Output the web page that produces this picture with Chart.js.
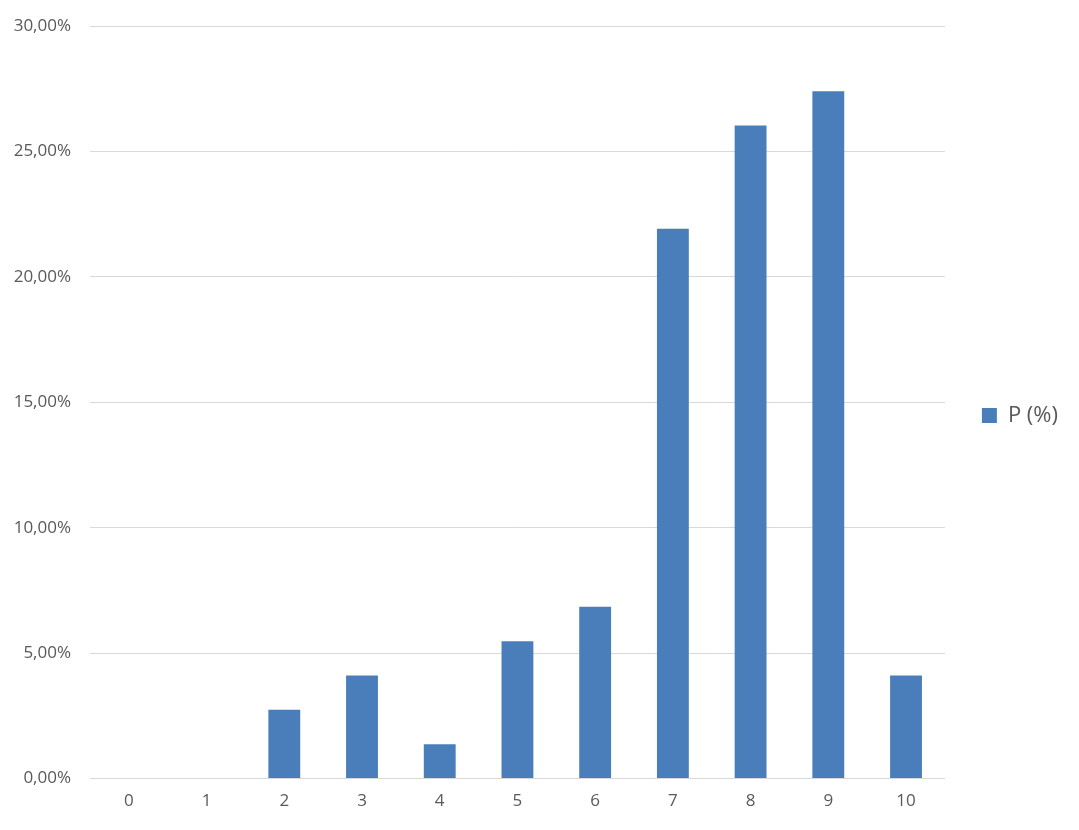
<!DOCTYPE html>
<html>
<head>
<meta charset="utf-8">
<script src="https://cdn.jsdelivr.net/npm/chart.js@4"></script>
<style>
  html, body { margin: 0; padding: 0; background: #fff; }
  #wrap { width: 1079px; height: 830px; }
</style>
</head>
<body>
<div id="wrap"><canvas id="chart"></canvas></div>
<script>
// Data
const categories = ['0', '1', '2', '3', '4', '5', '6', '7', '8', '9', '10'];
const pValues = [0, 0, 2.74, 4.11, 1.37, 5.48, 6.85, 21.92, 26.03, 27.40, 4.11];
const seriesLabel = 'P (%)';

const TEXT_COLOR = '#595959';
const GRID_COLOR = '#d9d9d9';
const BAR_COLOR = '#4a7ebb';
const Y_AXIS_WIDTH = 90;
const PLOT_TOP = 26;

// 5 -> "5,00%"
function formatPercent(value) {
  return value.toFixed(2).replace('.', ',') + '%';
}

Chart.defaults.font.family = '"Open Sans", "DejaVu Sans", sans-serif';
Chart.defaults.color = TEXT_COLOR;

const ctx = document.querySelector('#chart').getContext('2d');
new Chart(ctx, {
  type: 'bar',
  data: {
    labels: categories,
    datasets: [{
      label: seriesLabel,
      data: pValues,
      backgroundColor: BAR_COLOR,
      borderWidth: 0,
      barPercentage: 0.82,
      categoryPercentage: 0.5
    }]
  },
  options: {
    responsive: true,
    maintainAspectRatio: false,
    animation: false,
    layout: {
      padding: { top: 8, right: 11, bottom: 7, left: 0 }
    },
    plugins: {
      tooltip: { enabled: false },
      legend: {
        position: 'right',
        labels: {
          boxWidth: 15,
          boxHeight: 15,
          padding: 37,
          color: TEXT_COLOR,
          font: { size: 22 }
        }
      }
    },
    scales: {
      x: {
        grid: { display: false, drawTicks: false },
        border: { display: false },
        ticks: { font: { size: 17 }, padding: 12, color: TEXT_COLOR }
      },
      y: {
        min: 0,
        max: 30,
        grid: { color: GRID_COLOR, lineWidth: 1, drawTicks: false },
        border: { display: false },
        afterFit: (scale) => {
          scale.width = Y_AXIS_WIDTH;
          scale.paddingTop = PLOT_TOP;
        },
        ticks: {
          stepSize: 5,
          padding: 19,
          font: { size: 17 },
          color: TEXT_COLOR,
          callback: (value) => formatPercent(value)
        }
      }
    }
  }
});
</script>
</body>
</html>
